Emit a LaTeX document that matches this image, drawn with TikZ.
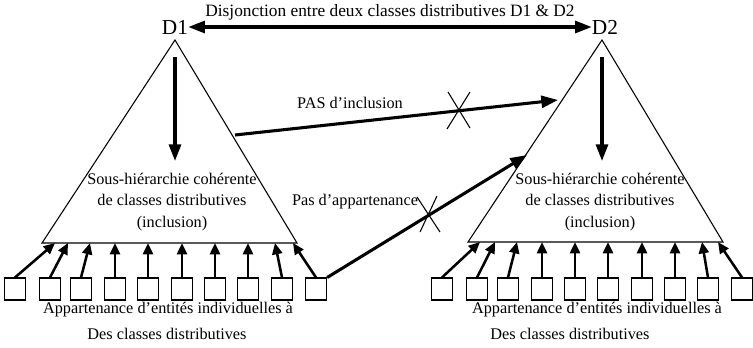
\documentclass[tikz,border=0pt]{standalone}
\usepackage{fontspec}
\setmainfont{Liberation Serif}
\usetikzlibrary{arrows.meta}

\begin{document}
\begin{tikzpicture}
		[x=0.75pt,y=-0.75pt,every node/.style={inner sep=0pt,font=\fontsize{12.2}{16}\selectfont},
		edge/.style={->,> = {Triangle[length=12.5pt,width=9pt]},line width=2.3pt},
		small/.style={->,> = {Triangle[length=8.5pt,width=7.5pt]},line width=1.9pt},
		tri/.style={line width=0.8pt},
		ent/.style={draw,line width=0.8pt,minimum width=16pt,minimum height=16.5pt}]
		\useasboundingbox (0,0) rectangle (753,347);
		% the two distributive classes
		\node (d1) at (175,27) {\fontsize{16}{16}\selectfont D1};
		\node (d2) at (605,27) {\fontsize{16}{16}\selectfont D2};
		\draw[edge,<->] (d1) -- (d2) node[midway,above=4pt,font=\fontsize{13}{15}\selectfont] {Disjonction entre deux classes distributives D1 \& D2};
		
		% sub-hierarchies
		\draw[tri] (175,40) -- (42,243) -- (297,243) -- cycle;
		\draw[tri] (602,40) -- (468,242) -- (723,242) -- cycle;
		\coordinate (t1top) at (175,57);
		\coordinate (t1bot) at (175,161);
		\coordinate (t2top) at (602,57);
		\coordinate (t2bot) at (602,161);
		\draw[edge] (t1top) -- (t1bot);
		\draw[edge] (t2top) -- (t2bot);
		\node[align=center] (h1) at (172,202) {Sous-hiérarchie cohérente\\de classes distributives\\(inclusion)};
		\node[align=center] (h2) at (600,202) {Sous-hiérarchie cohérente\\de classes distributives\\(inclusion)};
		
		% individual entities
		\foreach \i/\x/\t in {1/15/55,2/50/68,3/81/90,4/115/115,5/148/148,6/182/182,7/215/215,8/248/248,9/282/275,10/316/293}
		{
			\node[ent] (a\i) at (\x,289) {};
			\coordinate (b\i) at (\t,243);
			\draw[small] (a\i.north) -- (b\i);
		}
		\foreach \i/\x/\t in {1/442/480,2/477/495,3/508/517,4/542/542,5/575/575,6/608/608,7/642/642,8/675/675,9/708/702,10/742/718}
		{
			\node[ent] (c\i) at (\x,289) {};
			\coordinate (e\i) at (\t,242);
			\draw[small] (c\i.north) -- (e\i);
		}
		\node (m1) at (168,310) {Appartenance d’entités individuelles à};
		\node (n1) at (167,334) {Des classes distributives};
		\node (m2) at (597,310) {Appartenance d’entités individuelles à};
		\node (n2) at (570,334) {Des classes distributives};
		
		% negative relations
		\coordinate (p1) at (235,135);
		\coordinate (p2) at (558,100);
		\draw[edge] (p1) -- (p2);
		\node (pl) at (350,103) {PAS d’inclusion};
		\draw[tri] (448,92) -- (470,128) (470,92) -- (447,129);
		\coordinate (q2) at (527,155);
		\draw[edge] (a10.north east) -- (q2);
		\node (ql) at (355,202) {Pas d’appartenance};
		\draw[tri] (417,197) -- (440,232) (437,196) -- (420,232);
\end{tikzpicture}
\end{document}
